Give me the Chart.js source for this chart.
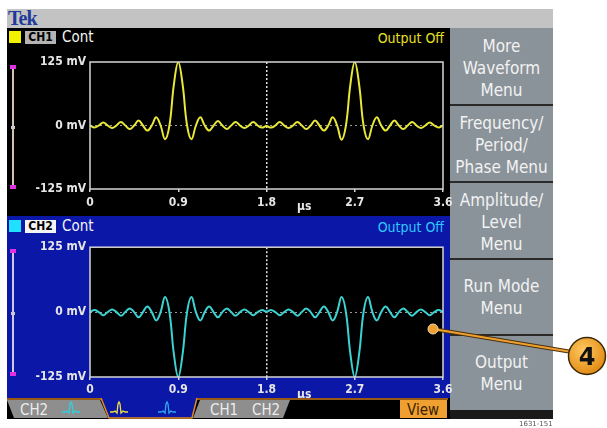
<!DOCTYPE html>
<html>
<head>
<meta charset="utf-8">
<script src="https://cdn.jsdelivr.net/npm/chart.js"></script>
<style>
  body { margin: 0; width: 607px; height: 428px; background: #fff; position: relative; overflow: hidden;
         font-family: 'DejaVu Sans Condensed', 'DejaVu Sans', sans-serif; }
  .abs { position: absolute; }
  .menu { position: absolute; left: 450px; width: 103px; background: #8a939a; color: #f2f2f2;
          display: flex; flex-direction: column; justify-content: center; align-items: center;
          font-size: 17px; line-height: 22px; text-align: center; }
  .sep { position: absolute; left: 450px; width: 103px; height: 2px; background: #2a2a2a; }
  .hdr { position: absolute; font-size: 15px; line-height: 16px; white-space: nowrap; }
  .chbox { position: absolute; width: 31px; height: 13px; font: bold 12px/13px 'DejaVu Sans Condensed', sans-serif;
           color: #000; text-align: center; }
  .unit { position: absolute; font: bold 12px/13px 'DejaVu Sans Condensed', sans-serif; color: #e6e6e6; }
  canvas { position: absolute; }
</style>
</head>
<body>

<!-- screen chrome -->
<div class="abs" style="left:7px;top:9px;width:546px;height:19px;background:#c3c3c3"></div>
<div class="abs" style="left:8px;top:8px;font:bold 20px/20px 'Liberation Serif',serif;color:#1f3a9a;letter-spacing:-1px">Tek</div>
<div class="abs" style="left:7px;top:28px;width:443px;height:188px;background:#000"></div>
<div class="abs" style="left:7px;top:216px;width:443px;height:183px;background:#0b17a6"></div>
<div class="abs" style="left:450px;top:28px;width:103px;height:391px;background:#1a1a1a"></div>

<!-- CH1 header -->
<div class="abs" style="left:9px;top:31px;width:12px;height:12px;background:#f2f200"></div>
<div class="chbox" style="left:25px;top:31px;background:#b4b4b4">CH1</div>
<div class="hdr" style="left:62px;top:29px;color:#f4f4f4">Cont</div>
<div class="hdr" style="right:163px;top:30px;color:#e8e020;font-size:14px">Output Off</div>

<!-- CH2 header -->
<div class="abs" style="left:9px;top:220px;width:12px;height:12px;background:#20e0ff"></div>
<div class="chbox" style="left:25px;top:220px;background:#f4f4f4">CH2</div>
<div class="hdr" style="left:62px;top:218px;color:#f4f4f4">Cont</div>
<div class="hdr" style="right:163px;top:219px;color:#30c8ff;font-size:14px">Output Off</div>

<!-- vertical level bars -->
<div class="abs" style="left:12px;top:67px;width:2px;height:120px;background:#d4c2ae"></div>
<div class="abs" style="left:10px;top:65px;width:6px;height:4px;background:#e030e0"></div>
<div class="abs" style="left:10px;top:185px;width:6px;height:4px;background:#e030e0"></div>
<div class="abs" style="left:11px;top:126px;width:4px;height:3px;background:#c8c8c8"></div>
<div class="abs" style="left:12px;top:251px;width:2px;height:123px;background:#d0c8e0"></div>
<div class="abs" style="left:10px;top:249px;width:6px;height:4px;background:#e030e0"></div>
<div class="abs" style="left:10px;top:372px;width:6px;height:4px;background:#e030e0"></div>
<div class="abs" style="left:11px;top:312px;width:4px;height:3px;background:#c8c8c8"></div>

<!-- side menu -->
<div class="menu" style="top:28px;height:76px;padding-top:4px;box-sizing:border-box">More<br>Waveform<br>Menu</div>
<div class="sep" style="top:104px"></div>
<div class="menu" style="top:106px;height:75px;padding-top:3px;box-sizing:border-box">Frequency/<br>Period/<br>Phase Menu</div>
<div class="sep" style="top:181px"></div>
<div class="menu" style="top:183px;height:75px;padding-top:3px;box-sizing:border-box">Amplitude/<br>Level<br>Menu</div>
<div class="sep" style="top:258px"></div>
<div class="menu" style="top:260px;height:74px">Run Mode<br>Menu</div>
<div class="sep" style="top:334px"></div>
<div class="menu" style="top:336px;height:74px">Output<br>Menu</div>

<canvas id="ch1" width="453" height="172" style="left:7px;top:45px"></canvas>
<canvas id="ch2" width="453" height="163" style="left:7px;top:236px"></canvas>

<div class="unit" style="left:297px;top:200px">µs</div>
<div class="unit" style="left:297px;top:388px">µs</div>

<!-- bottom tab row -->
<svg class="abs" style="left:7px;top:398px" width="443" height="21">
  <rect x="0" y="0" width="443" height="21" fill="#000"/>
  <line x1="0" y1="1" x2="94" y2="1" stroke="#c8781e" stroke-width="1.5"/>
  <line x1="190" y1="1" x2="441" y2="1" stroke="#c8781e" stroke-width="1.5"/>
  <polygon points="0,2 93,2 101,20 7,20" fill="#8e8e8e"/>
  <polygon points="94,0 190,0 185,20 102,20" fill="#0b17a6"/>
  <polyline points="94,0 102,20 185,20 190,0" fill="none" stroke="#e08a20" stroke-width="1.5"/>
  <polygon points="193,2 283,2 276,20 186,20" fill="#8e8e8e"/>
  <rect x="393" y="2" width="47" height="18" fill="#f0a030"/>
  <g font-family="DejaVu Sans Condensed, sans-serif" font-size="15">
    <text x="13" y="17" fill="#ececec">CH2</text>
    <text x="203" y="17" fill="#ececec">CH1</text>
    <text x="245" y="17" fill="#ececec">CH2</text>
    <text x="416" y="17" fill="#3a2000" text-anchor="middle">View</text>
  </g>
  <g fill="none" stroke-width="1.3">
    <polyline points="55,14 58,14 60,13 62,15 63,6 64,4 65,6 66,15 68,13 70,14 73,14" stroke="#30d0e0"/>
    <polyline points="103,14 106,14 108,13 110,15 111,6 112,4 113,6 114,15 116,13 118,14 121,14" stroke="#f0e040"/>
    <polyline points="151,14 154,14 156,13 158,15 159,6 160,4 161,6 162,15 164,13 166,14 169,14" stroke="#30a8f0"/>
  </g>
</svg>

<!-- callout -->
<svg class="abs" style="left:0;top:0;pointer-events:none" width="607" height="428">
  <defs>
    <radialGradient id="og" cx="0.4" cy="0.35" r="0.7">
      <stop offset="0" stop-color="#ffc860"/>
      <stop offset="1" stop-color="#e08810"/>
    </radialGradient>
  </defs>
  <line x1="433" y1="329" x2="572" y2="352" stroke="#4a300c" stroke-width="4"/>
  <line x1="433" y1="329" x2="572" y2="352" stroke="#f0a030" stroke-width="2"/>
  <circle cx="433" cy="329" r="5" fill="#f0a030" stroke="#f0d8a8" stroke-width="1"/>
  <circle cx="587" cy="356" r="18.5" fill="url(#og)" stroke="#3a2808" stroke-width="1.5"/>
  <text x="587" y="365" text-anchor="middle" font-family="DejaVu Sans, sans-serif" font-weight="bold" font-size="24" fill="#111">4</text>
</svg>
<div class="abs" style="left:519px;top:420px;font:7px/8px 'DejaVu Sans',sans-serif;color:#555">1631-151</div>

<script>
// time axis in microseconds, samples
const timeUs = [
  0, 0.045, 0.09, 0.135, 0.18, 0.225, 0.27, 0.315, 0.36, 0.405,
  0.45, 0.495, 0.54, 0.585, 0.63, 0.675, 0.72, 0.765, 0.81, 0.855,
  0.9, 0.945, 0.99, 1.035, 1.08, 1.125, 1.17, 1.215, 1.26, 1.305,
  1.35, 1.395, 1.44, 1.485, 1.53, 1.575, 1.62, 1.665, 1.71, 1.755,
  1.8, 1.845, 1.89, 1.935, 1.98, 2.025, 2.07, 2.115, 2.16, 2.205,
  2.25, 2.295, 2.34, 2.385, 2.43, 2.475, 2.52, 2.565, 2.61, 2.655,
  2.7, 2.745, 2.79, 2.835, 2.88, 2.925, 2.97, 3.015, 3.06, 3.105,
  3.15, 3.195, 3.24, 3.285, 3.33, 3.375, 3.42, 3.465, 3.51, 3.555,
  3.6
];

// CH1 (yellow), mV
const ch1mV = [
  0, -4, 0, 6, 0, -5, 0, 7, 0, -7,
  0, 10, 0, -10, 0, 16, 0, -27, 0, 80,
  125, 80, 0, -27, 0, 16, 0, -10, 0, 9,
  0, -7, 0, 7, 0, -5, 0, 7, 0, -4,
  -1, -4, 0, 7, 0, -5, 0, 7, 0, -7,
  0, 10, 0, -10, 0, 16, 0, -28, 0, 80,
  125, 80, 0, -27, 0, 16, 0, -10, 0, 10,
  0, -7, 0, 7, 0, -5, 0, 6, 0, -4,
  0
];

// CH2 (cyan), mV
const ch2mV = [
  0, 4, 0, -6, 0, 5, 0, -7, 0, 7,
  0, -10, 0, 11, 0, -16, 0, 29, 0, -80,
  -125, -80, 0, 29, 0, -16, 0, 11, 0, -10,
  0, 7, 0, -7, 0, 5, 0, -6, 0, 4,
  1, 4, 0, -6, 0, 5, 0, -7, 0, 7,
  0, -10, 0, 11, 0, -16, 0, 29, 0, -80,
  -125, -80, 0, 29, 0, -16, 0, 11, 0, -10,
  0, 7, 0, -7, 0, 5, 0, -6, 0, 4,
  0
];

const xTicks = [0, 0.9, 1.8, 2.7, 3.6];
const yTicks = [-125, 0, 125];

const COLORS = {
  ch1: '#e8e83a',
  ch2: '#3cd2d2',
  frame: '#d6d6d6',
  label: '#e6e6e6',
  centerGrid: '#dedede',
  zeroGrid: '#9a9a9a'
};

const TICK_FONT = { family: "'DejaVu Sans Condensed', 'DejaVu Sans', sans-serif", size: 12, weight: 'bold' };

// black plot area + light frame round it
const plotFrame = {
  id: 'plotFrame',
  beforeDraw(chart) {
    const { ctx, chartArea: a } = chart;
    ctx.save();
    ctx.fillStyle = '#000';
    ctx.fillRect(a.left, a.top, a.width, a.height);
    ctx.restore();
  },
  afterDraw(chart) {
    const { ctx, chartArea: a } = chart;
    ctx.save();
    ctx.strokeStyle = COLORS.frame;
    ctx.lineWidth = 1.5;
    ctx.strokeRect(a.left, a.top, a.width, a.height);
    ctx.restore();
  }
};

function createScopeChart(canvasId, values, color, padTop, axisHeight, tickPad) {
  const ctx = document.getElementById(canvasId).getContext('2d');
  const points = timeUs.map((t, i) => ({ x: t, y: values[i] }));

  return new Chart(ctx, {
    type: 'line',
    data: {
      datasets: [{
        data: points,
        borderColor: color,
        borderWidth: 2,
        pointRadius: 0,
        tension: 0.4,
        fill: false
      }]
    },
    options: {
      responsive: false,
      animation: false,
      layout: { padding: { top: padTop, right: 17, left: 0, bottom: 0 } },
      plugins: { legend: { display: false }, tooltip: { enabled: false } },
      scales: {
        x: {
          type: 'linear',
          min: 0,
          max: 3.6,
          afterBuildTicks: scale => { scale.ticks = xTicks.map(v => ({ value: v })); },
          afterFit: scale => { scale.height = axisHeight; },
          border: { display: false, dash: [2, 2] },
          grid: {
            color: c => (c.tick && c.tick.value === 1.8 ? COLORS.centerGrid : 'transparent'),
            lineWidth: 1.5,
            tickColor: COLORS.frame,
            tickLength: 3
          },
          ticks: {
            color: COLORS.label,
            font: TICK_FONT,
            padding: tickPad,
            maxRotation: 0,
            callback: v => String(v)
          }
        },
        y: {
          min: -125,
          max: 125,
          afterBuildTicks: scale => { scale.ticks = yTicks.map(v => ({ value: v })); },
          afterFit: scale => { scale.width = 83; },
          border: { display: false, dash: [2, 3] },
          grid: {
            color: c => (c.tick && c.tick.value === 0 ? COLORS.zeroGrid : 'transparent'),
            lineWidth: 1,
            drawTicks: false
          },
          ticks: {
            color: COLORS.label,
            font: TICK_FONT,
            padding: 4,
            callback: v => `${v} mV`
          }
        }
      }
    },
    plugins: [plotFrame]
  });
}

createScopeChart('ch1', ch1mV, COLORS.ch1, 17, 28, 4);
createScopeChart('ch2', ch2mV, COLORS.ch2, 11, 22, 3);
</script>
</body>
</html>
